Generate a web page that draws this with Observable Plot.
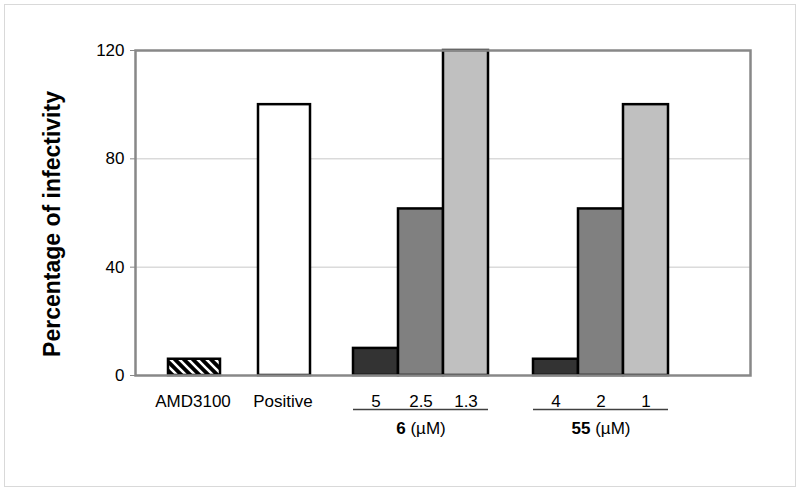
<!DOCTYPE html>
<html><head><meta charset="utf-8">
<script src="https://cdn.jsdelivr.net/npm/d3@7"></script>
<script src="https://cdn.jsdelivr.net/npm/@observablehq/plot@0.6"></script>
<style>
body{margin:0;background:#fff;}
#wrap{position:relative;width:800px;height:491px;overflow:hidden}
#border{position:absolute;left:4px;top:4px;width:792px;height:483px;border:1.5px solid #d9d9d9;box-sizing:border-box;pointer-events:none}
</style></head><body><div id="wrap"><div id="chart"></div><div id="border"></div></div>
<script>
// ---- data ----
const singleLabels = ["AMD3100", "Positive"];
const singleValues = [6, 100];
const groupNames = ["6", "55"];
const groupDoses = [["5", "2.5", "1.3"], ["4", "2", "1"]];
const groupValues = [[10, 61.5, 120], [6, 61.5, 100]];
const yTicks = [0, 40, 80, 120];
const yLabel = "Percentage of infectivity";
const unit = "(µM)";

// ---- build table ----
const singles = [];
const doses = [];
const domain = [];
singleLabels.forEach((s, i) => {
  singles.push({key: s, label: s, value: singleValues[i], kind: i === 0 ? "hatch" : "positive"});
  domain.push(s, "gap" + domain.length);
});
const groups = [];
groupNames.forEach((g, gi) => {
  const keys = groupDoses[gi].map(d => g + "|" + d);
  groupDoses[gi].forEach((d, di) => {
    doses.push({key: keys[di], label: d, value: groupValues[gi][di], kind: "dose" + di});
    domain.push(keys[di]);
  });
  domain.push("gap" + domain.length);
  groups.push({name: g, first: keys[0], mid: keys[1], last: keys[keys.length - 1]});
});
const rows = singles.concat(doses);
const labelOf = Object.fromEntries(rows.map(r => [r.key, r.label]));

const plot = Plot.plot({
  width: 800, height: 491,
  marginLeft: 135, marginRight: 50, marginTop: 50, marginBottom: 116,
  style: {fontFamily: "'Liberation Sans', Arial, sans-serif", fontSize: "17px", color: "#000", background: "transparent"},
  x: {domain, paddingInner: 0, paddingOuter: 0.75, axis: null},
  y: {domain: [0, 120], axis: null},
  color: {type: "ordinal", domain: ["hatch", "positive", "dose0", "dose1", "dose2"],
          range: ["url(#hatch)", "#ffffff", "#333333", "#808080", "#c0c0c0"]},
  marks: [
    Plot.gridY(yTicks, {stroke: "#c8c8c8", strokeOpacity: 1, strokeWidth: 1}),
    Plot.barY(singles, {x: "key", y: "value", fill: "kind", stroke: "#000", strokeWidth: 2.5, insetLeft: -5, insetRight: -2}),
    Plot.barY(doses, {x: "key", y: "value", fill: "kind", stroke: "#000", strokeWidth: 2.5}),
    Plot.frame({stroke: "#888", strokeWidth: 2.5}),
    Plot.axisY({ticks: yTicks, tickSize: 5, tickPadding: 6, stroke: "#888", fill: "#000", label: null, fontSize: 17}),
    Plot.axisX({ticks: singles.map(r => r.key), tickSize: 0, tickPadding: 19, dx: -3, tickFormat: k => labelOf[k], label: null, fontSize: 17, fill: "#000"}),
    Plot.axisX({ticks: doses.map(r => r.key), tickSize: 0, tickPadding: 19, tickFormat: k => labelOf[k], label: null, fontSize: 17, fill: "#000"}),
    Plot.ruleY(groups, {y: 0, x1: "first", x2: "last", dy: 34, stroke: "#404040", strokeWidth: 1.5}),
    Plot.text(groups, {x: "mid", y: 0, text: d => d.name + " " + unit, dy: 53, fontSize: 17, fill: "#000"}),
    Plot.text([yLabel], {frameAnchor: "left", textAnchor: "middle", rotate: -90, dx: -83, dy: 11, fontWeight: "bold", fontSize: 23, fill: "#000"})
  ]
});

const svg = d3.select(plot);
svg.insert("defs", ":first-child").html(
  '<pattern id="hatch" patternUnits="userSpaceOnUse" width="9" height="9">' +
  '<rect width="9" height="9" fill="#000"/>' +
  '<path d="M-2,-2L11,11M-2,7L2,11M7,-2L11,2" stroke="#fff" stroke-width="2.6"/></pattern>');
svg.selectAll("text").each(function () {
  const m = this.textContent.match(/^(\d+) \(µM\)$/);
  if (m) {
    this.textContent = "";
    d3.select(this).append("tspan").attr("font-weight", "bold").text(m[1]);
    d3.select(this).append("tspan").text(" " + unit);
  }
});
document.getElementById("chart").append(plot);
</script></body></html>
